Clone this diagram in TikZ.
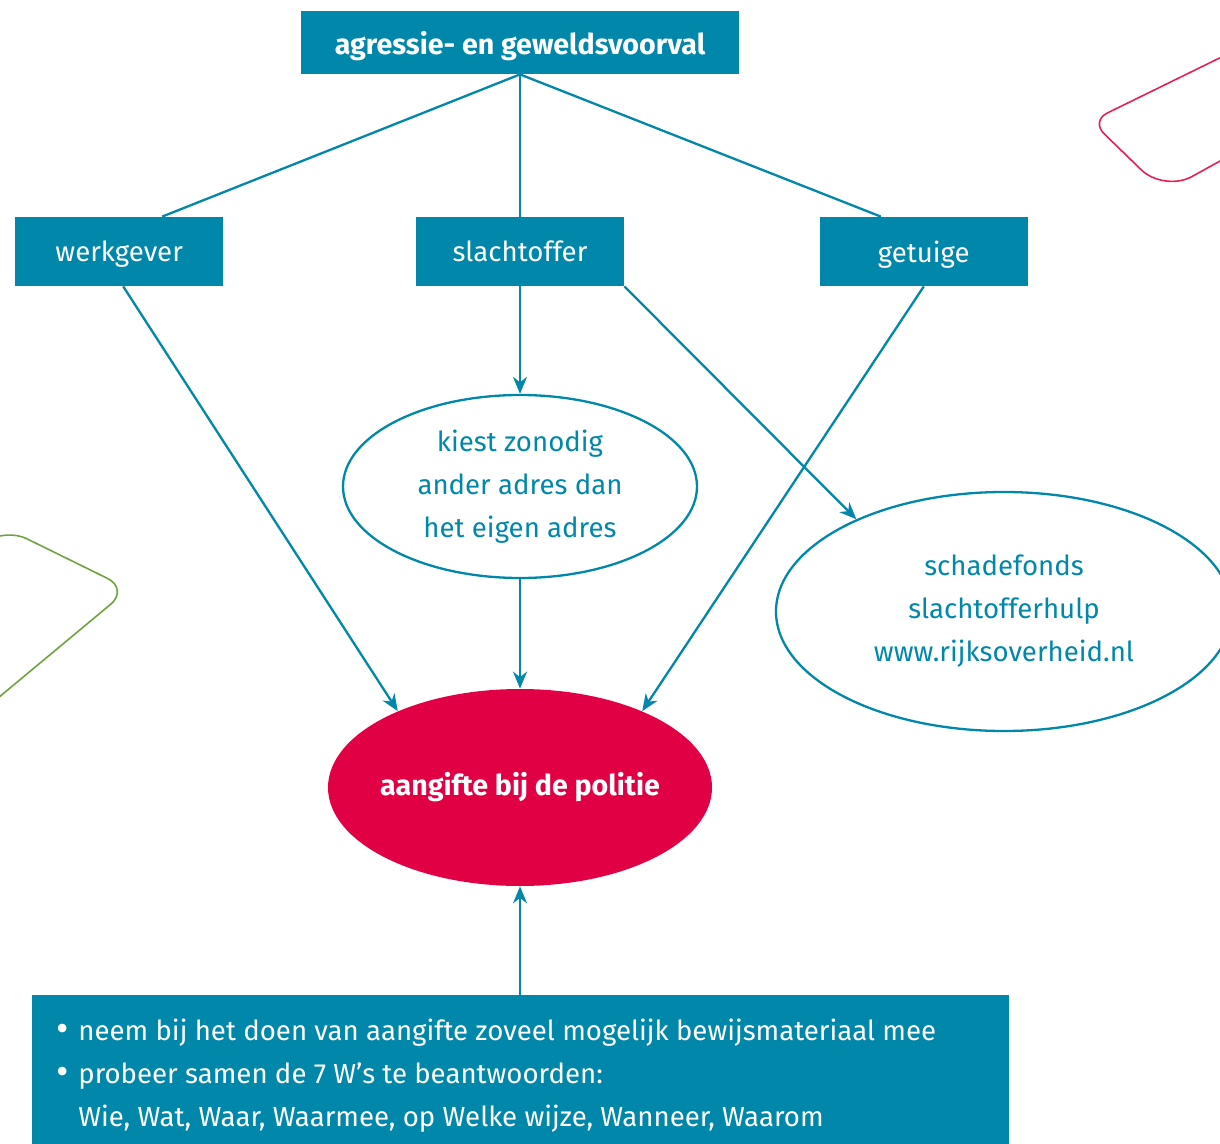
\documentclass[tikz,border=0pt]{standalone}
\usepackage{fontspec}
\setmainfont{Fira Sans}
\usetikzlibrary{arrows.meta,positioning,shapes.geometric,calc}
\definecolor{rvoblue}{RGB}{0,135,170}
\definecolor{rvored}{RGB}{226,0,68}
\definecolor{rvopink}{RGB}{228,32,84}
\definecolor{rvogreen}{RGB}{112,162,64}
\newcommand\diagfont{\fontsize{13.8}{21.5}\selectfont}
\newcommand\boldfont{\fontsize{14.3}{21.5}\selectfont\bfseries}
\newcommand\tipdot{\makebox[11pt][l]{\raisebox{-0.5pt}{\fontsize{19}{19}\selectfont •}}}

\begin{document}
\begin{tikzpicture}[x=0.5pt, y=-0.5pt, font=\diagfont, >={Stealth[length=8.5pt,width=7pt]},
  conn/.style={draw=rvoblue, line width=1.15pt},
  blk/.style={fill=rvoblue, text=white, minimum width=104pt, minimum height=34.5pt, inner sep=0pt, text depth=0pt},
  oval/.style={ellipse, draw=rvoblue, line width=1.15pt, text=rvoblue, align=center, inner sep=0pt}]
  \useasboundingbox (0,0) rectangle (1220,1144);
  \clip (0,0) rectangle (1220,1144);
  % decorative outlines at the edges
  \draw[rvopink, line width=0.8pt] (1240,48) [rounded corners=9pt] -- (1091,121)
    [rounded corners=16pt] -- (1164,192) -- (1240,150);
  \draw[rvogreen, line width=0.8pt, rounded corners=12pt] (-40,560) -- (5,528) -- (129,589) -- (-20,713);
  % boxes
  \node[blk, minimum width=219pt, minimum height=31.5pt, font=\boldfont] (event) at (520,42.5) {agressie- en geweldsvoorval};
  \node[blk] (victim) at (520,251.5) {slachtoffer};
  \node[blk, left=96pt of victim] (employer) {werkgever};
  \node[blk, right=97.5pt of victim] (witness) {getuige};
  \node[oval, minimum width=177pt, minimum height=91.5pt] (address) at (520,486.5)
    {kiest zonodig\\ander adres dan\\het eigen adres};
  \node[oval, minimum width=228pt, minimum height=119.5pt] (fund) at (1004,611.5)
    {schadefonds\\slachtofferhulp\\www.rijksoverheid.nl};
  \node[ellipse, fill=rvored, text=white, font=\boldfont, minimum width=192pt, minimum height=98.5pt, inner sep=0pt] (police) at (520,787.5)
    {\makebox[0pt]{aangifte bij de politie}};
  \node[fill=rvoblue, minimum width=488.5pt, minimum height=90pt, inner sep=0pt, anchor=north west] (tips) at (32,995) {};
  \node[text=white, align=left, inner sep=0pt, anchor=north west] (tipstext) at (56,1019)
    {\tipdot neem bij het doen van aangifte zoveel mogelijk bewijsmateriaal mee\\
     \tipdot probeer samen de 7 W’s te beantwoorden:\\
     \hspace*{11pt}Wie, Wat, Waar, Waarmee, op Welke wijze, Wanneer, Waarom};
  % connectors
  \draw[conn] (event.south) -- ([xshift=21.5pt]employer.north);
  \draw[conn] (event.south) -- (victim.north);
  \draw[conn] (event.south) -- ([xshift=-21.5pt]witness.north);
  \draw[conn, ->] ([xshift=2pt]employer.south) -- (police.148);
  \draw[conn, ->] (victim.south) -- (address.north);
  \draw[conn, ->] (victim.south east) -- (fund.148);
  \draw[conn, ->] (witness.south) -- (police.32);
  \draw[conn, ->] (address.south) -- (police.north);
  \draw[conn, ->] (tips.north -| police.south) -- (police.south);
\end{tikzpicture}
\end{document}
